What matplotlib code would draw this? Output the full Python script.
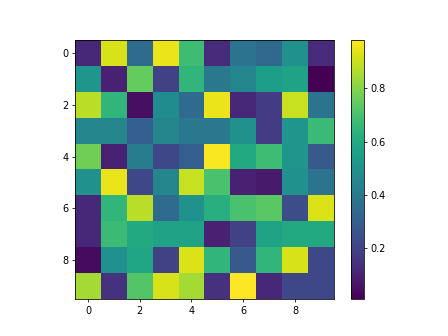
import numpy as np
import matplotlib
matplotlib.use("Agg")
import matplotlib.pyplot as plt

# values, row by row
row0 = [0.12, 0.92, 0.35, 0.95, 0.68, 0.13, 0.38, 0.34, 0.50, 0.13]
row1 = [0.52, 0.10, 0.75, 0.20, 0.65, 0.40, 0.45, 0.55, 0.57, 0.01]
row2 = [0.88, 0.65, 0.05, 0.48, 0.35, 0.95, 0.12, 0.18, 0.90, 0.38]
row3 = [0.45, 0.45, 0.30, 0.45, 0.40, 0.40, 0.50, 0.18, 0.52, 0.67]
row4 = [0.77, 0.10, 0.42, 0.22, 0.30, 0.97, 0.60, 0.68, 0.52, 0.28]
row5 = [0.50, 0.95, 0.22, 0.45, 0.90, 0.70, 0.10, 0.08, 0.50, 0.38]
row6 = [0.12, 0.65, 0.88, 0.35, 0.50, 0.62, 0.70, 0.73, 0.24, 0.93]
row7 = [0.12, 0.67, 0.60, 0.57, 0.57, 0.10, 0.20, 0.57, 0.60, 0.60]
row8 = [0.04, 0.50, 0.58, 0.20, 0.93, 0.65, 0.28, 0.65, 0.92, 0.22]
row9 = [0.85, 0.15, 0.72, 0.92, 0.85, 0.15, 0.98, 0.12, 0.22, 0.22]

data = np.array([row0, row1, row2, row3, row4, row5, row6, row7, row8, row9])

plt.figure(figsize=(6.4, 4.8), dpi=70)
plt.imshow(data, cmap="viridis")
plt.colorbar()
plt.savefig("out.png", dpi=70)
